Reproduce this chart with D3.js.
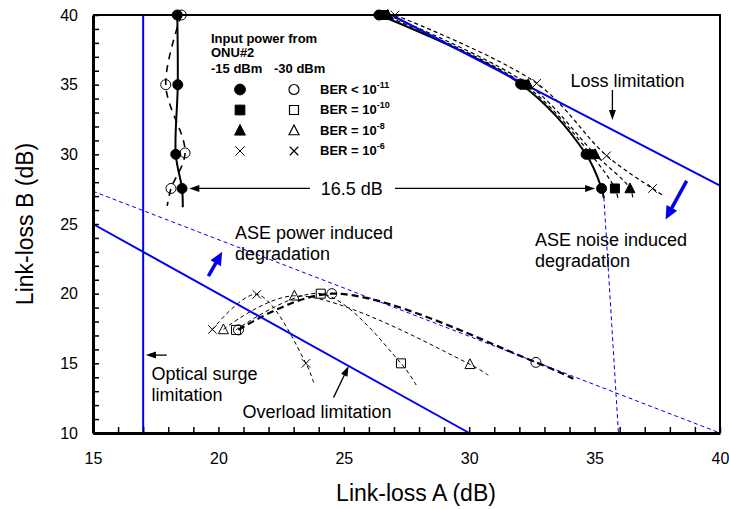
<!DOCTYPE html>
<html>
<head>
<meta charset="utf-8">
<script src="https://cdn.jsdelivr.net/npm/d3@7"></script>
<style>
body{margin:0;background:#fff;}
svg text{font-family:"Liberation Sans",Arial,sans-serif;fill:#000;}
</style>
</head>
<body>
<div id="chart"></div>
<script>
// Link-loss A vs link-loss B (dB)
var xDomain = [15, 40];
var yDomain = [10, 40];
var xTicks = [15, 20, 25, 30, 35, 40];
var yTicks = [10, 15, 20, 25, 30, 35, 40];

// -15 dBm, upper right branch (filled markers)
var hiCircle = [[26.4, 40], [32.05, 35.05], [34.66, 30], [35.28, 27.55]];
var hiSquare = [[26.6, 40], [32.2, 35], [34.85, 30], [35.81, 27.55]];
var hiTriangle = [[26.75, 40], [32.35, 35], [35.02, 30], [36.41, 27.55]];
var hiCross = [[27.04, 40], [32.69, 35.1], [35.48, 29.9], [37.31, 27.55]];
var hiEnds = [[35.37, 26.86], [35.95, 26.7], [36.54, 26.7], [37.71, 27.08]];

// left branch, -15 dBm (filled) and -30 dBm (open)
var leftFilled = [[18.36, 40], [18.38, 35], [18.3, 30], [18.55, 27.55]];
var leftFilledEnd = [18.58, 26.2];
var leftOpen = [[18.52, 40], [17.9, 35], [18.67, 30.1], [18.11, 27.55]];
var leftOpenEnd = [17.96, 26.3];

// -30 dBm, lower branch (open markers)
var loCircle = [[20.8, 17.4], [24.52, 20.0], [32.66, 15.07]];
var loSquare = [[20.7, 17.4], [24.08, 20.0], [27.28, 15.0]];
var loTriangle = [[20.2, 17.43], [23.03, 19.85], [30.03, 14.93]];
var loCross = [[19.76, 17.43], [21.53, 19.95], [23.49, 15.0]];
var loEnds = [[34.15, 13.9], [27.9, 13.4], [30.76, 14.15], [23.8, 13.6]];

// limitation lines
var surgeLine = [[17, 10], [17, 40]];
var overloadLine = [[15, 25], [30, 10]];
var lossLine = [[26.9, 40], [40, 27.75]];
var asePowerLine = [[15, 27.35], [40, 10]];
var aseNoiseLine = [[35.37, 26.9], [35.95, 10]];

var markerTypes = ["circle", "square", "triangle", "cross"];
var berText = ["BER < 10", "BER = 10", "BER = 10", "BER = 10"];
var berExp = ["-11", "-10", "-8", "-6"];

class LinkLossChart{
	constructor(parent){
		var viz = this;
		viz.svg = d3.select(parent).append("svg")
			.attr("width", 729)
			.attr("height", 509);
		viz.x = d3.scaleLinear().domain(xDomain).range([93, 720]);
		viz.y = d3.scaleLinear().domain(yDomain).range([433, 15]);
		viz.line = d3.line()
			.x(function(d){ return viz.x(d[0]); })
			.y(function(d){ return viz.y(d[1]); })
			.curve(d3.curveCatmullRom.alpha(0.5));
		viz.straight = d3.line()
			.x(function(d){ return viz.x(d[0]); })
			.y(function(d){ return viz.y(d[1]); });

		viz.drawCurves();
		viz.drawLimits();  // blue lines sit over the fitted curves
		viz.drawPoints();
		viz.drawAxes();
		viz.drawLegend();
		viz.drawNotes();
	}

	drawAxes(){
		var viz = this;
		var xAxis = d3.axisBottom(viz.x)
			.tickValues(d3.range(15, 41))
			.tickSize(-6).tickSizeOuter(0).tickPadding(20)
			.tickFormat(function(d){ return xTicks.includes(d) ? d : ""; });
		var yAxis = d3.axisLeft(viz.y)
			.tickValues(d3.range(10, 41))
			.tickSize(-6).tickSizeOuter(0).tickPadding(15)
			.tickFormat(function(d){ return yTicks.includes(d) ? d : ""; });

		var gx = viz.svg.append("g").attr("transform", "translate(0,433)").call(xAxis);
		var gy = viz.svg.append("g").attr("transform", "translate(93,0)").call(yAxis);
		[gx, gy].forEach(function(g){
			g.select(".domain").attr("stroke", "#000").attr("stroke-width", 3);
			g.selectAll(".tick line").attr("stroke", "#000").attr("stroke-width", 1.5);
			g.selectAll(".tick text").attr("font-size", 16);
		});

		// frame top and right
		viz.svg.append("path")
			.attr("d", "M" + viz.x(15) + "," + viz.y(40) + "H" + viz.x(40) + "V" + viz.y(10))
			.attr("fill", "none").attr("stroke", "#000").attr("stroke-width", 2);

		viz.svg.append("text")
			.attr("x", 416).attr("y", 501)
			.attr("text-anchor", "middle").attr("font-size", 23)
			.text("Link-loss A (dB)");
		viz.svg.append("text")
			.attr("transform", "translate(33,224) rotate(-90)")
			.attr("text-anchor", "middle").attr("font-size", 23)
			.text("Link-loss B (dB)");
	}

	drawLimits(){
		var viz = this;
		var g = viz.svg.append("g").attr("fill", "none").attr("stroke", "#0000ee");
		[surgeLine, overloadLine, lossLine].forEach(function(l){
			g.append("path").attr("d", viz.straight(l)).attr("stroke-width", 2);
		});
		[asePowerLine, aseNoiseLine].forEach(function(l){
			g.append("path").attr("d", viz.straight(l))
				.attr("stroke-width", 1).attr("stroke-dasharray", "4,3");
		});
	}

	markerPath(type, s){
		if(type == "circle") return d3.symbol(d3.symbolCircle, Math.PI * s * s)();
		if(type == "square") return "M" + (-s*0.9) + "," + (-s*0.9) + "h" + (1.8*s) + "v" + (1.8*s) + "h" + (-1.8*s) + "z";
		if(type == "triangle") return "M0," + (-s*1.1) + "L" + s + "," + (s*0.85) + "L" + (-s) + "," + (s*0.85) + "z";
		return "M" + (-s*0.85) + "," + (-s*0.85) + "L" + (s*0.85) + "," + (s*0.85) +
			"M" + (-s*0.85) + "," + (s*0.85) + "L" + (s*0.85) + "," + (-s*0.85);
	}

	drawMarkers(g, pts, type, filled){
		var viz = this;
		g.selectAll(null).data(pts).enter().append("path")
			.attr("transform", function(d){ return "translate(" + viz.x(d[0]) + "," + viz.y(d[1]) + ")"; })
			.attr("d", viz.markerPath(type, 5))
			.attr("fill", (filled && type != "cross") ? "#000" : "none")
			.attr("stroke", "#000")
			.attr("stroke-width", 1);
	}

	drawCurves(){
		var viz = this;
		var g = viz.svg.append("g").attr("fill", "none").attr("stroke", "#000");

		// upper right branch
		[hiCircle, hiSquare, hiTriangle, hiCross].forEach(function(pts, i){
			g.append("path").attr("d", viz.line(pts.concat([hiEnds[i]])))
				.attr("stroke-width", i == 0 ? 2 : 1.2)
				.attr("stroke-dasharray", i == 0 ? null : "4,3");
		});
		// left branch
		g.append("path").attr("d", viz.line(leftFilled.concat([leftFilledEnd])))
			.attr("stroke-width", 2);
		g.append("path").attr("d", viz.line(leftOpen.concat([leftOpenEnd])))
			.attr("stroke-width", 1.6).attr("stroke-dasharray", "7,6");
		// lower branch
		[loCircle, loSquare, loTriangle, loCross].forEach(function(pts, i){
			g.append("path").attr("d", viz.line(pts.concat([loEnds[i]])))
				.attr("stroke-width", i == 0 ? 2.2 : 1)
				.attr("stroke-dasharray", i == 0 ? "7,4" : "4,3");
		});
	}

	drawPoints(){
		var viz = this;
		var m = viz.svg.append("g");
		var hi = [hiCircle, hiSquare, hiTriangle, hiCross];
		var lo = [loCircle, loSquare, loTriangle, loCross];
		for(var i = 3; i >= 0; i--){
			viz.drawMarkers(m, hi[i], markerTypes[i], true);
			viz.drawMarkers(m, lo[i], markerTypes[i], false);
		}
		viz.drawMarkers(m, leftFilled, "circle", true);
		viz.drawMarkers(m, leftOpen, "circle", false);
	}

	drawLegend(){
		var viz = this;
		var g = viz.svg.append("g").attr("font-weight", "bold").attr("font-size", 13);
		g.append("text").attr("x", 211).attr("y", 42.5).text("Input power from");
		g.append("text").attr("x", 211).attr("y", 56.5).text("ONU#2");
		g.append("text").attr("x", 211).attr("y", 72.5).text("-15 dBm");
		g.append("text").attr("x", 274).attr("y", 72.5).text("-30 dBm");

		markerTypes.forEach(function(type, i){
			var cy = 89.5 + i * 20.5;
			g.append("path").attr("transform", "translate(240," + cy + ")")
				.attr("d", viz.markerPath(type, 5.4))
				.attr("fill", type == "cross" ? "none" : "#000").attr("stroke", "#000");
			g.append("path").attr("transform", "translate(294," + cy + ")")
				.attr("d", viz.markerPath(type, 5))
				.attr("fill", "#fff").attr("stroke", "#000").attr("stroke-width", 1.2);
			var t = g.append("text").attr("x", 320).attr("y", cy + 4);
			t.append("tspan").text(berText[i]);
			t.append("tspan").attr("dy", -6).attr("font-size", 9).text(berExp[i]);
		});
	}

	arrow(p0, p1, color, width, len, half){
		var viz = this;
		var x0 = viz.x(p0[0]), y0 = viz.y(p0[1]), x1 = viz.x(p1[0]), y1 = viz.y(p1[1]);
		var dx = x1 - x0, dy = y1 - y0, n = Math.sqrt(dx*dx + dy*dy);
		var ux = dx / n, uy = dy / n;
		var bx = x1 - ux * len, by = y1 - uy * len;
		viz.svg.append("line")
			.attr("x1", x0).attr("y1", y0)
			.attr("x2", x1 - ux * len * 0.7).attr("y2", y1 - uy * len * 0.7)
			.attr("stroke", color).attr("stroke-width", width);
		viz.svg.append("path")
			.attr("d", "M" + x1 + "," + y1 + "L" + (bx - uy*half) + "," + (by + ux*half) +
				"L" + (bx + uy*half) + "," + (by - ux*half) + "Z")
			.attr("fill", color);
	}

	drawNotes(){
		var viz = this;
		var g = viz.svg.append("g").attr("font-size", 18);
		g.append("text").attr("x", 570.5).attr("y", 86.5).text("Loss limitation");
		g.append("text").attr("x", 351.7).attr("y", 194.5).attr("text-anchor", "middle").text("16.5 dB");
		g.append("text").attr("x", 235).attr("y", 239).text("ASE power induced");
		g.append("text").attr("x", 235).attr("y", 260).text("degradation");
		g.append("text").attr("x", 535).attr("y", 246).text("ASE noise induced");
		g.append("text").attr("x", 535).attr("y", 267).text("degradation");
		g.append("text").attr("x", 151.5).attr("y", 380).text("Optical surge");
		g.append("text").attr("x", 151.5).attr("y", 401).text("limitation");
		g.append("text").attr("x", 242.5).attr("y", 418).text("Overload limitation");

		viz.arrow([35.71, 34.62], [35.71, 32.46], "#000", 1.3, 10, 3.5);
		viz.arrow([23.65, 27.55], [18.84, 27.55], "#000", 1.3, 10, 3.5);
		viz.arrow([27.04, 27.55], [35.02, 27.55], "#000", 1.3, 10, 3.5);
		viz.arrow([17.94, 15.59], [17.11, 15.59], "#000", 1.3, 10, 3.5);
		viz.arrow([24.59, 12.54], [25.19, 14.8], "#000", 1.3, 10, 3.5);
		viz.arrow([38.67, 28.1], [37.83, 25.33], "#0000ee", 3.5, 13, 6);
		viz.arrow([19.6, 21.26], [20.15, 23.0], "#0000ee", 3.5, 13, 6);
	}
}

new LinkLossChart("#chart");
</script>
</body>
</html>
